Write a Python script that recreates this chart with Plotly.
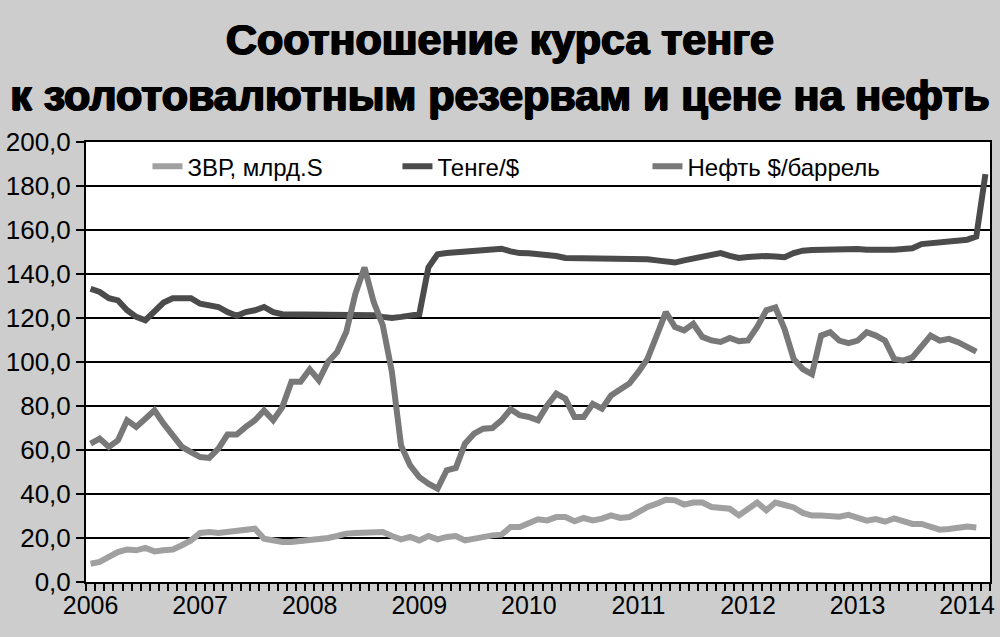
import plotly.graph_objects as go

# monthly data, Jan 2006 .. Mar 2014
years = ["2006", "2007", "2008", "2009", "2010", "2011", "2012", "2013", "2014"]

zvr = [8.3, 9.1, 11.4, 13.6, 14.8, 14.4, 15.5, 13.9, 14.4, 14.8, 16.7, 18.9,
       22.3, 22.7, 22.3, 22.7, 23.2, 23.8, 24.2, 19.7, 18.6, 18.2, 18.2, 18.6,
       19.4, 19.8, 20.0, 20.9, 22.0, 22.3, 22.4, 22.7, 22.7, 20.9, 19.4, 20.5,
       18.9, 20.9, 19.4, 20.5, 20.9, 18.9, 19.7, 20.9, 21.2, 21.5, 25.0, 25.0,
       27.0, 28.5, 28.0, 29.5, 29.5, 27.6, 29.1, 28.0, 28.8, 30.3, 29.1, 29.5,
       31.8, 34.1, 35.6, 37.4, 37.1, 35.2, 36.1, 36.1, 34.1, 33.6, 33.3, 30.3,
       33.3, 36.1, 32.6, 36.1, 35.0, 33.9, 31.4, 30.2, 30.2, 30.2, 29.7, 30.5,
       28.9, 27.9, 28.6, 27.4, 28.9, 27.4, 26.4, 26.4, 25.3, 23.8, 24.1, 24.8,
       25.2, 24.8]

tenge = [133.3, 131.8, 129.0, 128.0, 123.5, 120.5, 119.0, 123.5, 127.0, 129.0, 129.0, 129.0,
         126.5, 126.0, 125.0, 122.7, 121.0, 122.7, 123.5, 125.0, 122.7, 121.7, 121.7, 121.7,
         121.7, 121.7, 121.7, 121.7, 121.7, 121.7, 121.7, 121.2, 120.5, 120.0, 120.5, 121.0,
         121.7, 143.0, 149.0, 149.5, 149.8, 150.3, 150.7, 151.0, 151.2, 151.5, 150.3, 149.5,
         149.4, 149.2, 148.8, 148.2, 147.3, 147.3, 147.3, 147.3, 147.3, 147.3, 147.3, 147.3,
         147.0, 146.7, 146.2, 145.5, 145.2, 146.2, 147.0, 147.3, 148.2, 149.5, 148.2, 147.3,
         147.7, 148.2, 148.2, 148.0, 147.6, 149.5, 150.6, 150.9, 151.0, 151.4, 151.7, 151.8,
         151.4, 151.0, 150.9, 150.9, 151.0, 151.4, 151.7, 153.6, 154.1, 154.4, 154.8, 155.2,
         155.6, 157.0, 185.4]

oil = [62.9, 65.2, 61.4, 64.4, 73.5, 70.5, 74.2, 78.0, 72.0, 66.7, 61.4, 59.0,
       56.8, 56.4, 60.6, 67.0, 67.0, 70.5, 73.5, 78.0, 73.5, 79.5, 91.0, 91.0,
       96.7, 91.7, 100.0, 104.5, 113.6, 131.0, 143.0, 127.3, 116.7, 95.5, 62.1, 53.0,
       47.7, 44.7, 42.4, 50.8, 51.8, 62.9, 67.4, 69.7, 70.0, 73.5, 78.5, 75.8,
       75.0, 73.5, 80.3, 85.6, 83.3, 75.0, 75.0, 81.0, 78.8, 84.8, 87.9, 90.2,
       95.5, 101.5, 112.0, 122.7, 115.9, 114.4, 117.4, 111.4, 109.8, 109.1, 110.9, 109.4,
       109.8, 115.9, 123.5, 124.8, 115.0, 101.4, 96.8, 94.5, 112.0, 113.5, 109.7, 108.6,
       109.7, 113.5, 112.0, 109.7, 101.4, 100.6, 102.1, 107.4, 112.0, 109.7, 110.5, 109.0,
       106.7, 104.7]

n_months = len(tenge)
font_fam = "Liberation Sans, Arial, sans-serif"

fig = go.Figure()
fig.add_trace(go.Scatter(x=list(range(len(zvr))), y=zvr, mode="lines", name="ЗВР, млрд.S",
                         line=dict(color="#a0a0a0", width=6)))
fig.add_trace(go.Scatter(x=list(range(len(tenge))), y=tenge, mode="lines", name="Тенге/$",
                         line=dict(color="#4b4b4b", width=6)))
fig.add_trace(go.Scatter(x=list(range(len(oil))), y=oil, mode="lines", name="Нефть $/баррель",
                         line=dict(color="#787878", width=6)))

fig.update_layout(
    width=1000, height=637,
    paper_bgcolor="#cdcdcd", plot_bgcolor="white",
    margin=dict(l=86, r=10, t=142, b=55, autoexpand=False),
    separators=", ",
    title=dict(text="<b>Соотношение курса тенге<br>к золотовалютным резервам и цене на нефть</b>",
               x=0.5, xanchor="center", y=0.915, yanchor="middle",
               font=dict(family=font_fam, size=43, color="black",
                         shadow="1px 0 0 black, -1px 0 0 black, 0 1px 0 black")),
    legend=dict(orientation="h", x=0.068, xanchor="left", y=0.995, yanchor="top",
                bgcolor="rgba(0,0,0,0)", entrywidth=205, entrywidthmode="pixels",
                font=dict(family=font_fam, size=24, color="black")),
    showlegend=True,
)

fig.update_xaxes(
    range=[-0.5, n_months - 0.5], automargin=False,
    tickmode="array", tickvals=[12 * k for k in range(len(years))], ticktext=years,
    ticks="", showgrid=False, zeroline=False,
    showline=True, linecolor="black", linewidth=2, mirror=True,
    tickfont=dict(family=font_fam, size=25, color="black"),
    minor=dict(tickvals=[k - 0.5 for k in range(n_months + 1)], ticks="outside",
               ticklen=7, tickwidth=2, tickcolor="black"),
)
fig.update_yaxes(
    range=[0, 200], dtick=20, tickformat=".1f", automargin=False,
    ticks="outside", ticklen=8, tickwidth=2, tickcolor="black",
    showgrid=True, gridcolor="black", gridwidth=2, zeroline=False,
    showline=True, linecolor="black", linewidth=2, mirror=True,
    tickfont=dict(family=font_fam, size=26, color="black"),
)

# page body has a default margin, drop it so the figure fills the window
fig.write_html("out.html", config={"displayModeBar": False},
               post_script="document.body.style.margin='0';")
